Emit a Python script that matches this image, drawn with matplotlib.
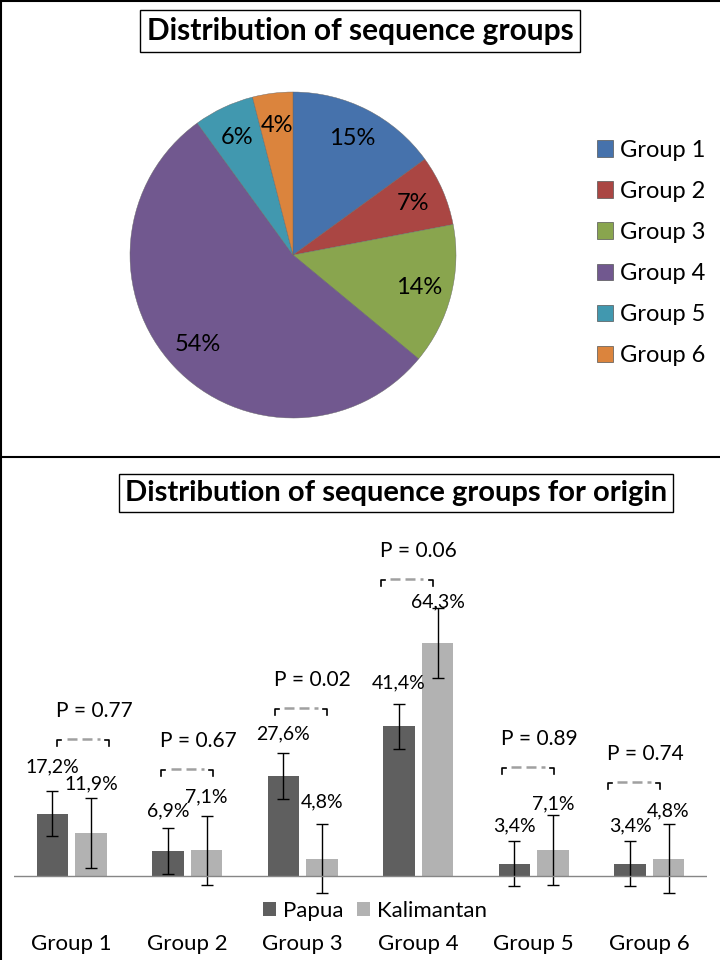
import matplotlib.pyplot as plt
from matplotlib.patches import Patch

plt.rcParams['font.family'] = ['Lato', 'DejaVu Sans']

groups = ["Group 1", "Group 2", "Group 3", "Group 4", "Group 5", "Group 6"]
pie_share = [15, 7, 14, 54, 6, 4]
pie_colors = ["#4672AC", "#AA4643", "#89A54E", "#71588F", "#4198AF", "#DB843D"]

papua = [17.2, 6.9, 27.6, 41.4, 3.4, 3.4]
kalimantan = [11.9, 7.1, 4.8, 64.3, 7.1, 4.8]
papua_err = [6.2, 6.3, 6.3, 6.2, 6.2, 6.2]
kalimantan_err = [9.7, 9.6, 9.6, 9.6, 9.7, 9.6]
p_values = ["P = 0.77", "P = 0.67", "P = 0.02", "P = 0.06", "P = 0.89", "P = 0.74"]

# hand placed annotation positions in the original
bracket_level = [37.6, 29.3, 46.1, 81.8, 29.8, 25.7]
bracket_shift = [0.1, 0.0, -0.015, -0.1, -0.05, -0.13]
papua_lift = [24, 17, 19, 21, 15, 15]
kalimantan_lift = [14, 19, 22, 7, 11, 13]

W, H = 720, 960
fig = plt.figure(figsize=(7.2, 9.6), dpi=100)


def fx(px):
    return px / W


def fy(px):
    return 1 - px / H


# frame lines
fig.add_artist(plt.Line2D([0, 1], [fy(1), fy(1)], color="black", lw=1.5))
fig.add_artist(plt.Line2D([fx(1), fx(1)], [0, 1], color="black", lw=1.5))
fig.add_artist(plt.Line2D([0, 1], [fy(457), fy(457)], color="black", lw=1.5))

# ---- pie chart ----
r = 163
ax1 = fig.add_axes([fx(293 - r), fy(255 + r), fx(2 * r), 2 * r / H])
wedges, texts = ax1.pie(pie_share, colors=pie_colors, startangle=90, counterclock=False,
                        labels=[f"{v}%" for v in pie_share], labeldistance=0.8,
                        textprops=dict(fontsize=17, ha="center", va="center"),
                        wedgeprops=dict(edgecolor="#666666", linewidth=0.3))
ax1.set_xlim(-1, 1)
ax1.set_ylim(-1, 1)

fig.text(fx(360), fy(31), "Distribution of sequence groups", fontsize=21.5, fontweight="bold",
         ha="center", va="center",
         bbox=dict(boxstyle="square,pad=0.22", facecolor="white", edgecolor="black", lw=1))

handles = [Patch(facecolor=c, edgecolor="#555555", lw=0.5) for c in pie_colors]
fig.legend(handles, groups, loc="center left", bbox_to_anchor=(fx(585), fy(253)),
           frameon=False, fontsize=17, handlelength=0.7, handleheight=0.7,
           handletextpad=0.3, labelspacing=0.85, borderpad=0)

# ---- bar chart ----
ymin, ymax = -8, 90
scale = 3.62
ax2 = fig.add_axes([fx(14), fy(876 + (-ymin) * scale), fx(693), (ymax - ymin) * scale / H])
ax2.set_xlim(-0.5, 5.5)
ax2.set_ylim(ymin, ymax)

x = list(range(len(groups)))
w = 0.27
off = 0.167
xp = [i - off for i in x]
xk = [i + off for i in x]
ax2.bar(xp, papua, width=w, color="#5F5F5F", label="Papua")
ax2.bar(xk, kalimantan, width=w, color="#B2B2B2", label="Kalimantan")
ax2.errorbar(xp, papua, yerr=papua_err, fmt="none", ecolor="black", elinewidth=1, capsize=4, capthick=1)
ax2.errorbar(xk, kalimantan, yerr=kalimantan_err, fmt="none", ecolor="black", elinewidth=1, capsize=4, capthick=1)
ax2.axhline(0, color="#868686", lw=1)

for xs, vals, errs, lifts in [(xp, papua, papua_err, papua_lift),
                              (xk, kalimantan, kalimantan_err, kalimantan_lift)]:
    for xi, v, e, lift in zip(xs, vals, errs, lifts):
        ax2.annotate(f"{v:.1f}%".replace(".", ","), (xi, v + e), xytext=(0, lift * 0.72),
                     textcoords="offset points", ha="center", va="center", fontsize=14)

half = 0.225
for i, (lvl, sh, ptxt) in enumerate(zip(bracket_level, bracket_shift, p_values)):
    c = i + sh
    l, rr = c - half, c + half
    ax2.plot([l, l, l + 0.035], [lvl - 1.7, lvl, lvl], color="black", lw=1.2)
    ax2.plot([rr - 0.035, rr, rr], [lvl, lvl, lvl - 1.7], color="black", lw=1.2)
    ax2.plot([l + 0.08, rr - 0.08], [lvl + 0.3, lvl + 0.3], color="#A0A0A0", lw=1.8,
             linestyle=(0, (4, 2)))
    ax2.text(l - 0.01, lvl + 8, ptxt, ha="left", va="center", fontsize=15)

for s in ax2.spines.values():
    s.set_visible(False)
ax2.set_yticks([])
ax2.set_xticks(x)
ax2.set_xticklabels(groups, fontsize=16)
ax2.tick_params(axis="x", length=0, pad=21)

ax2.legend(loc="center", bbox_to_anchor=(fx(375), fy(911)), bbox_transform=fig.transFigure,
           ncol=2, frameon=False, fontsize=16, handlelength=0.6, handleheight=0.6,
           handletextpad=0.3, columnspacing=0.6)

fig.text(fx(396), fy(493), "Distribution of sequence groups for origin", fontsize=21,
         fontweight="bold", ha="center", va="center",
         bbox=dict(boxstyle="square,pad=0.2", facecolor="white", edgecolor="black", lw=1))

fig.savefig("out.png", dpi=100)
